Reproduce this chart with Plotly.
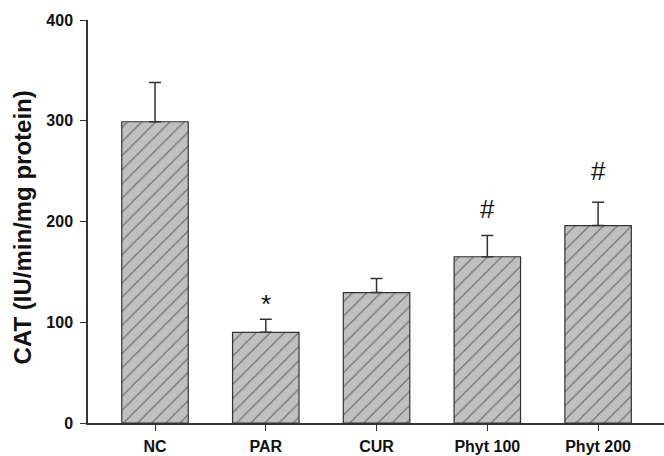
import plotly.graph_objects as go

categories = ["NC", "PAR", "CUR", "Phyt 100", "Phyt 200"]
means = [299, 90, 129.5, 165, 196]
errors_up = [39, 13, 14, 21, 23]
sig_marks = ["", "*", "", "#", "#"]
sig_y = [None, 118, None, 212, 250]
y_ticks = [0, 100, 200, 300, 400]
y_title = "CAT (IU/min/mg protein)"

FONT = "Liberation Sans, Arial, sans-serif"
x_idx = list(range(len(categories)))

fig = go.Figure()
fig.add_trace(go.Bar(
    x=x_idx, y=means, width=0.6,
    marker=dict(
        color="#c0c0c0",
        line=dict(color="#333333", width=1.2),
        pattern=dict(shape="/", fgcolor="#222222", bgcolor="#c0c0c0", size=10, solidity=0.12),
    ),
    error_y=dict(type="data", symmetric=False, array=errors_up, arrayminus=[0]*5,
                 color="#333333", thickness=1.5, width=6),
    showlegend=False,
))

for i, (m, yy) in enumerate(zip(sig_marks, sig_y)):
    if m:
        fig.add_annotation(x=i, y=yy, text=m, showarrow=False,
                           font=dict(family=FONT, size=26, color="#111111"))

fig.add_annotation(xref="paper", yref="paper", x=-0.113, y=0.485, text=y_title,
                   textangle=-90, showarrow=False, xanchor="center", yanchor="middle",
                   font=dict(family=FONT, size=24, color="#111111", weight="bold"))

fig.update_layout(
    width=664, height=456,
    margin=dict(l=88, r=0, t=20, b=33),
    paper_bgcolor="white", plot_bgcolor="white",
    font=dict(family=FONT, color="#111111"),
    bargap=0.4,
)
fig.update_xaxes(
    range=[-0.605, 4.595], tickmode="array", tickvals=x_idx, ticktext=categories,
    showline=True, linecolor="#333333", linewidth=1.5, ticks="outside", ticklen=6,
    tickcolor="#333333", tickwidth=1.2, showgrid=False, zeroline=False,
    tickfont=dict(family=FONT, size=16, color="#111111", weight="bold"),
    ticklabelstandoff=2, automargin=False,
)
fig.update_yaxes(
    range=[0, 400], tickmode="array", tickvals=y_ticks,
    showline=True, linecolor="#333333", linewidth=1.5, ticks="outside", ticklen=6,
    tickcolor="#333333", tickwidth=1.2, showgrid=False, zeroline=False,
    tickfont=dict(family=FONT, size=16, color="#111111", weight="bold"),
    ticklabelstandoff=4, automargin=False,
)

fig.write_html("out.html", config={"displayModeBar": False},
               post_script="document.body.style.margin='0';document.body.style.overflow='hidden';")
